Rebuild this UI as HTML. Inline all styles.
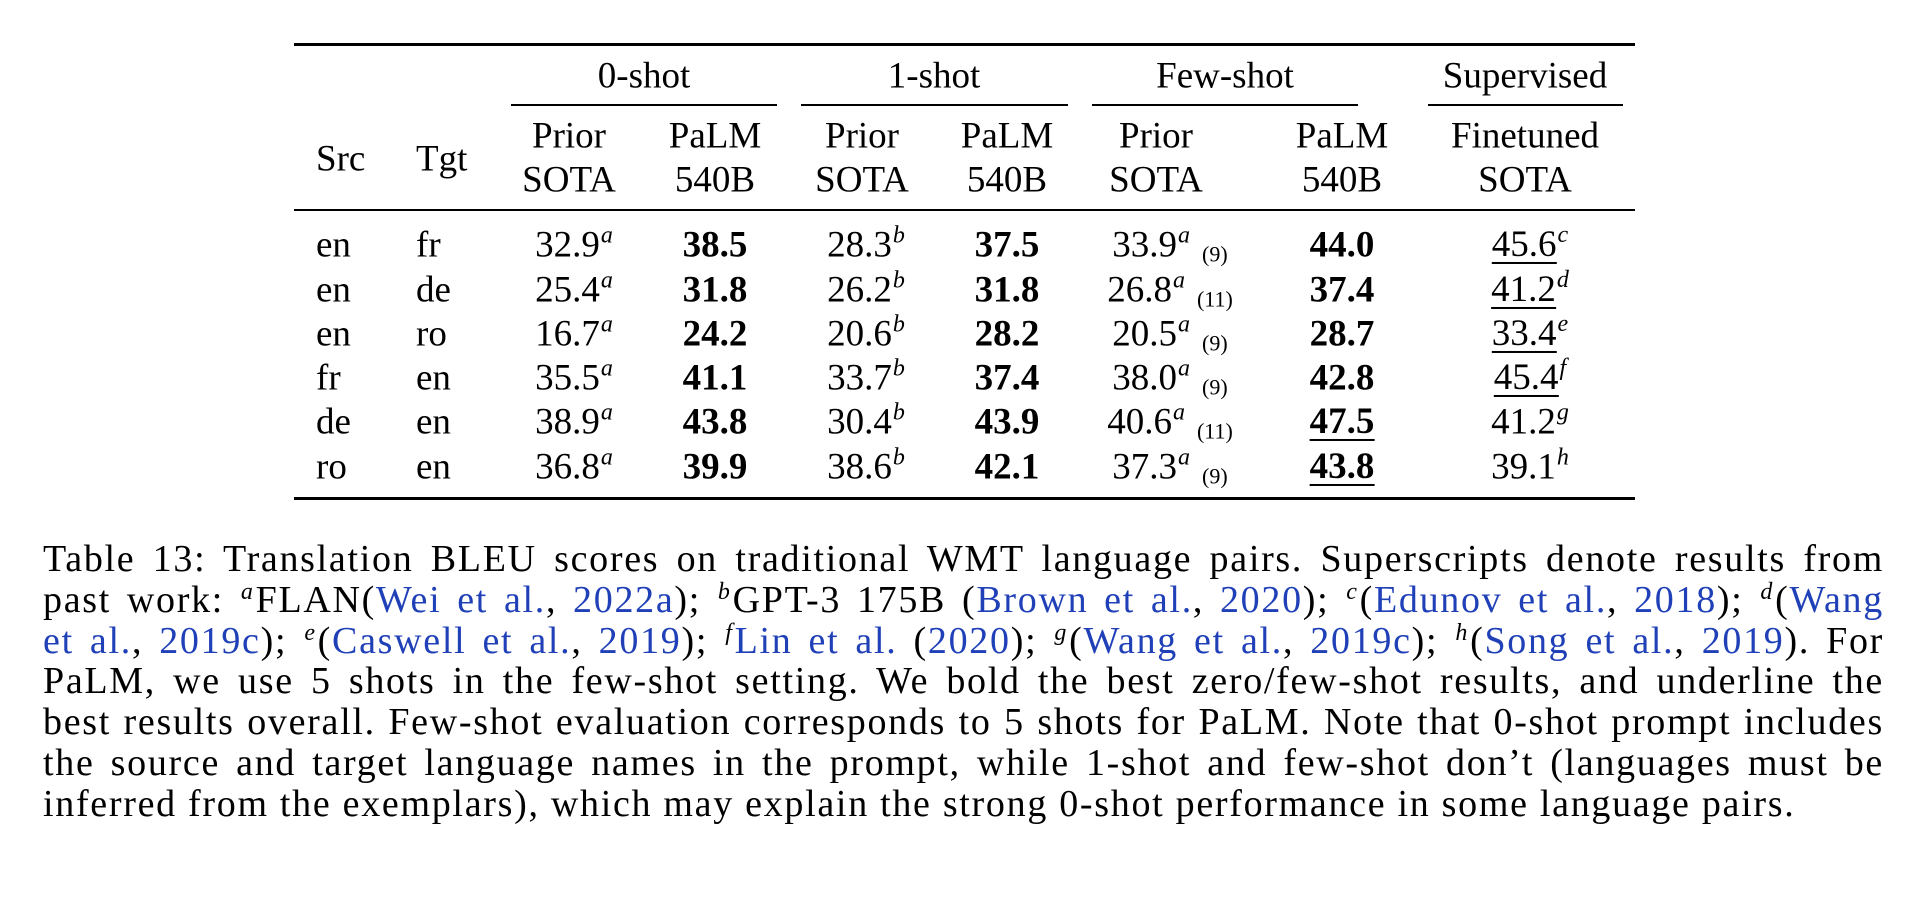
<!DOCTYPE html>
<html><head><meta charset="utf-8"><style>
body{margin:0;width:1918px;height:898px;background:#fff;position:relative;overflow:hidden;font-family:"Liberation Serif",serif;color:#000}
.r{position:absolute;background:#000}
.c{position:absolute;font-size:37px;line-height:1;white-space:nowrap;transform:translate(-50%,-50%)}
.l{position:absolute;font-size:37px;line-height:1;white-space:nowrap;transform:translateY(-50%)}
b{font-weight:bold}
sup{font-style:italic;font-size:24px;vertical-align:0;position:relative;top:-14px;margin-left:1px}
.n{font-size:22px;margin-left:12px;position:relative;top:5px}
.u{border-bottom:2px solid #000;padding-bottom:0px;display:inline-block;line-height:0.92}
.cap{position:absolute;left:43px;width:1841px;font-size:38px;letter-spacing:1.7px;line-height:40.8px;top:539px}
.cap div{text-align:justify;text-align-last:justify;white-space:nowrap;height:40.8px}
.cap div.last{text-align-last:left}
.cap sup{font-size:24px;top:-13px;margin-right:1px}
a{color:#2040b8;text-decoration:none}
</style></head><body>
<div class="r" style="left:294px;top:43px;width:1341px;height:3px"></div>
<div class="r" style="left:511px;top:104px;width:266px;height:1.5px"></div>
<div class="r" style="left:801px;top:104px;width:267px;height:1.5px"></div>
<div class="r" style="left:1092px;top:104px;width:266px;height:1.5px"></div>
<div class="r" style="left:1428px;top:104px;width:195px;height:1.5px"></div>
<div class="r" style="left:294px;top:209px;width:1341px;height:2px"></div>
<div class="r" style="left:294px;top:497px;width:1341px;height:3px"></div>

<div class="c" style="left:644px;top:76px">0-shot</div>
<div class="c" style="left:934px;top:76px">1-shot</div>
<div class="c" style="left:1225px;top:76px">Few-shot</div>
<div class="c" style="left:1525px;top:76px">Supervised</div>

<div class="l" style="left:316px;top:159px">Src</div>
<div class="l" style="left:416px;top:159px">Tgt</div>
<div class="c" style="left:569px;top:136px">Prior</div><div class="c" style="left:569px;top:180px">SOTA</div>
<div class="c" style="left:715px;top:136px">PaLM</div><div class="c" style="left:715px;top:180px">540B</div>
<div class="c" style="left:862px;top:136px">Prior</div><div class="c" style="left:862px;top:180px">SOTA</div>
<div class="c" style="left:1007px;top:136px">PaLM</div><div class="c" style="left:1007px;top:180px">540B</div>
<div class="c" style="left:1156px;top:136px">Prior</div><div class="c" style="left:1156px;top:180px">SOTA</div>
<div class="c" style="left:1342px;top:136px">PaLM</div><div class="c" style="left:1342px;top:180px">540B</div>
<div class="c" style="left:1525px;top:136px">Finetuned</div><div class="c" style="left:1525px;top:180px">SOTA</div>

<div class="l" style="left:316px;top:245px">en</div><div class="l" style="left:416px;top:245px">fr</div>
<div class="c" style="left:574px;top:245px">32.9<sup>a</sup></div><div class="c" style="left:715px;top:245px"><b>38.5</b></div>
<div class="c" style="left:866px;top:245px">28.3<sup>b</sup></div><div class="c" style="left:1007px;top:245px"><b>37.5</b></div>
<div class="c" style="left:1170px;top:245px">33.9<sup>a</sup><span class="n">(9)</span></div><div class="c" style="left:1342px;top:245px"><b>44.0</b></div>
<div class="c" style="left:1530px;top:245px"><span class="u">45.6</span><sup>c</sup></div>

<div class="l" style="left:316px;top:290px">en</div><div class="l" style="left:416px;top:290px">de</div>
<div class="c" style="left:574px;top:290px">25.4<sup>a</sup></div><div class="c" style="left:715px;top:290px"><b>31.8</b></div>
<div class="c" style="left:866px;top:290px">26.2<sup>b</sup></div><div class="c" style="left:1007px;top:290px"><b>31.8</b></div>
<div class="c" style="left:1170px;top:290px">26.8<sup>a</sup><span class="n">(11)</span></div><div class="c" style="left:1342px;top:290px"><b>37.4</b></div>
<div class="c" style="left:1530px;top:290px"><span class="u">41.2</span><sup>d</sup></div>

<div class="l" style="left:316px;top:334px">en</div><div class="l" style="left:416px;top:334px">ro</div>
<div class="c" style="left:574px;top:334px">16.7<sup>a</sup></div><div class="c" style="left:715px;top:334px"><b>24.2</b></div>
<div class="c" style="left:866px;top:334px">20.6<sup>b</sup></div><div class="c" style="left:1007px;top:334px"><b>28.2</b></div>
<div class="c" style="left:1170px;top:334px">20.5<sup>a</sup><span class="n">(9)</span></div><div class="c" style="left:1342px;top:334px"><b>28.7</b></div>
<div class="c" style="left:1530px;top:334px"><span class="u">33.4</span><sup>e</sup></div>

<div class="l" style="left:316px;top:378px">fr</div><div class="l" style="left:416px;top:378px">en</div>
<div class="c" style="left:574px;top:378px">35.5<sup>a</sup></div><div class="c" style="left:715px;top:378px"><b>41.1</b></div>
<div class="c" style="left:866px;top:378px">33.7<sup>b</sup></div><div class="c" style="left:1007px;top:378px"><b>37.4</b></div>
<div class="c" style="left:1170px;top:378px">38.0<sup>a</sup><span class="n">(9)</span></div><div class="c" style="left:1342px;top:378px"><b>42.8</b></div>
<div class="c" style="left:1530px;top:378px"><span class="u">45.4</span><sup>f</sup></div>

<div class="l" style="left:316px;top:422px">de</div><div class="l" style="left:416px;top:422px">en</div>
<div class="c" style="left:574px;top:422px">38.9<sup>a</sup></div><div class="c" style="left:715px;top:422px"><b>43.8</b></div>
<div class="c" style="left:866px;top:422px">30.4<sup>b</sup></div><div class="c" style="left:1007px;top:422px"><b>43.9</b></div>
<div class="c" style="left:1170px;top:422px">40.6<sup>a</sup><span class="n">(11)</span></div><div class="c" style="left:1342px;top:422px"><b class="u">47.5</b></div>
<div class="c" style="left:1530px;top:422px">41.2<sup>g</sup></div>

<div class="l" style="left:316px;top:467px">ro</div><div class="l" style="left:416px;top:467px">en</div>
<div class="c" style="left:574px;top:467px">36.8<sup>a</sup></div><div class="c" style="left:715px;top:467px"><b>39.9</b></div>
<div class="c" style="left:866px;top:467px">38.6<sup>b</sup></div><div class="c" style="left:1007px;top:467px"><b>42.1</b></div>
<div class="c" style="left:1170px;top:467px">37.3<sup>a</sup><span class="n">(9)</span></div><div class="c" style="left:1342px;top:467px"><b class="u">43.8</b></div>
<div class="c" style="left:1530px;top:467px">39.1<sup>h</sup></div>

<div class="cap">
<div>Table 13: Translation BLEU scores on traditional WMT language pairs. Superscripts denote results from</div>
<div>past work: <sup>a</sup>FLAN(<a>Wei et al.</a>, <a>2022a</a>); <sup>b</sup>GPT-3 175B (<a>Brown et al.</a>, <a>2020</a>); <sup>c</sup>(<a>Edunov et al.</a>, <a>2018</a>); <sup>d</sup>(<a>Wang</a></div>
<div><a>et al.</a>, <a>2019c</a>); <sup>e</sup>(<a>Caswell et al.</a>, <a>2019</a>); <sup>f</sup><a>Lin et al.</a> (<a>2020</a>); <sup>g</sup>(<a>Wang et al.</a>, <a>2019c</a>); <sup>h</sup>(<a>Song et al.</a>, <a>2019</a>). For</div>
<div>PaLM, we use 5 shots in the few-shot setting. We bold the best zero/few-shot results, and underline the</div>
<div>best results overall. Few-shot evaluation corresponds to 5 shots for PaLM. Note that 0-shot prompt includes</div>
<div>the source and target language names in the prompt, while 1-shot and few-shot don’t (languages must be</div>
<div class="last">inferred from the exemplars), which may explain the strong 0-shot performance in some language pairs.</div>
</div>
</body></html>
